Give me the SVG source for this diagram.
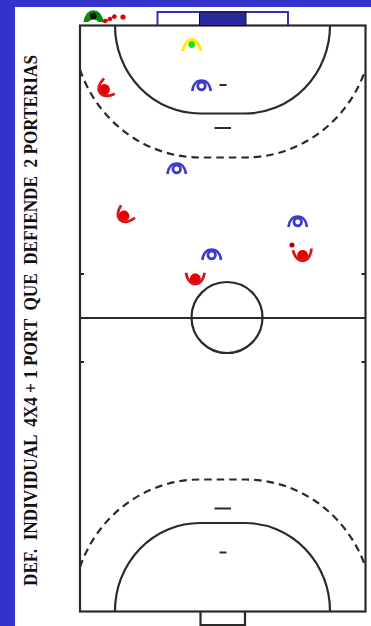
<svg xmlns="http://www.w3.org/2000/svg" width="371" height="626" viewBox="0 0 371 626">
<style>
.line{fill:none;stroke:#2a2a2a;stroke-width:2.200}
.dash{fill:none;stroke:#2a2a2a;stroke-width:2.200;stroke-dasharray:7.500 5}
.tick{fill:none;stroke:#2a2a2a;stroke-width:2}
.blue{fill:none;stroke:#3c3ccc;stroke-width:2.700}
.red{fill:none;stroke:#d81818;stroke-width:2.800}
.title{font-family:"Liberation Serif",serif;font-weight:bold;font-size:18px;fill:#111}
</style>
<defs>
<g id="atk"><circle cx="0" cy="0.500" r="3.800" class="blue"/><path d="M-9.300 5.500C-8.500 -1 -5 -5 0 -5C5 -5 8.500 -1 9.300 5.500" class="blue"/></g>
<g id="def"><circle cx="0" cy="0" r="5.400" fill="#e60000"/><path d="M-9.300 -6C-8.500 0 -5 5.500 0 5.500C5 5.500 8.500 0 9.300 -6" class="red"/></g>
</defs>
<rect width="371" height="626" fill="#fff"/>
<rect width="371" height="7" fill="#3333cc"/>
<rect width="15" height="626" fill="#3333cc"/>
<g id="court">
<rect x="80" y="25.500" width="285.500" height="586" class="line"/>
<path d="M80 318H365.500" class="line"/>
<circle cx="227" cy="317.500" r="35.500" class="line"/>
<path d="M115 25.500A85 88 0 0 0 200 113.500H245A85 88 0 0 0 330 25.500" class="line"/>
<path d="M115 611.500A85 88 0 0 1 200 523H245A85 88 0 0 1 330 611.500" class="line"/>
<path d="M80 69.500A127.500 132 0 0 0 200 157.500H245A127.500 132 0 0 0 365.500 69.500" class="dash"/>
<path d="M80 567A127.500 132 0 0 1 200 479.500H245A127.500 132 0 0 1 365.500 567" class="dash"/>
<path d="M214.500 128H231M219.500 85H226.500M214.500 508.500H231M219.500 552.500H226.500" class="tick"/>
<path d="M80 274H84M80 362H84M361.500 274H365.500M361.500 362H365.500" class="tick"/>
</g>
<g id="goal-top">
<path d="M157.500 25V12H288V25" fill="none" stroke="#3333aa" stroke-width="2"/>
<rect x="199.500" y="12" width="46.500" height="13.500" fill="#2a2a9c" stroke="#111" stroke-width="1"/>
</g>
<path id="goal-bottom" d="M200.500 611.500V625H245V611.500" class="line"/>
<g id="connectors"><path d="M105 21L114 17" stroke="#e00000" stroke-width="3" stroke-dasharray="3 1" fill="none"/></g>
<g id="keeper-green"><path d="M84.500 22C86 15 89 11.500 93.500 11.500C98 11.500 101 15 102.500 22" fill="#0a8a0a" stroke="#0a8a0a" stroke-width="2.500"/><path d="M88 22Q93.500 17 99 22Z" fill="#fff"/><circle cx="93.300" cy="16" r="3.300" fill="#111"/></g>
<g id="keeper-yellow"><circle cx="191.700" cy="44.500" r="3.400" fill="#22dd22"/><path d="M182.500 51C184.500 44 187 39.500 191.700 39.500C196.400 39.500 199 44 201 51" fill="none" stroke="#ffee00" stroke-width="3"/></g>
<g id="ball-top"><circle cx="105" cy="21" r="2.200" fill="#e00000"/><circle cx="110" cy="19" r="2.200" fill="#e00000"/><circle cx="114.500" cy="16.500" r="2.200" fill="#e00000"/><circle cx="123" cy="17" r="2.600" fill="#e00000"/></g>
<use id="att1" href="#atk" x="201.500" y="85.500"/>
<use id="att2" href="#atk" x="176.700" y="168.500"/>
<use id="att3" href="#atk" x="297.700" y="221.500"/>
<use id="att4" href="#atk" x="211.700" y="254.500"/>
<use id="def1" href="#def" transform="translate(104.500 89.500) rotate(55)"/>
<use id="def2" href="#def" transform="translate(124 216) rotate(42)"/>
<use id="def3" href="#def" transform="translate(302.700 255.300) rotate(-5)"/>
<use id="def4" href="#def" transform="translate(195.300 278.700)"/>
<g id="ball"><circle cx="292" cy="245" r="2.600" fill="#e00000"/><circle cx="292" cy="245" r="1.100" fill="#111"/></g>
<text class="title" transform="translate(37 586) rotate(-90)" textLength="531" lengthAdjust="spacingAndGlyphs" xml:space="preserve">DEF.  INDIVIDUAL  4X4 + 1 PORT  QUE  DEFIENDE  2 PORTERIAS</text>
</svg>
